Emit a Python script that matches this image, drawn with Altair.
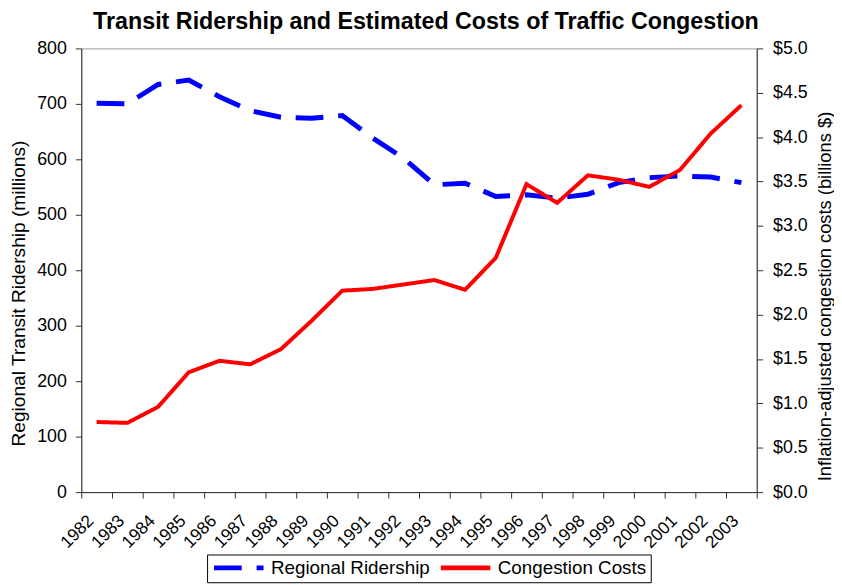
import altair as alt
import pandas as pd

years = ["1982", "1983", "1984", "1985", "1986", "1987", "1988", "1989", "1990", "1991", "1992",
         "1993", "1994", "1995", "1996", "1997", "1998", "1999", "2000", "2001", "2002", "2003"]
ridership = [701, 700, 735, 743, 713, 688, 676, 674, 679, 638, 602,
             554, 557, 533, 536, 530, 537, 558, 567, 570, 568, 558]
costs = [0.79, 0.78, 0.96, 1.35, 1.48, 1.44, 1.61, 1.93, 2.27, 2.29, 2.34,
         2.39, 2.28, 2.64, 3.47, 3.26, 3.57, 3.52, 3.44, 3.63, 4.04, 4.36]
series_names = ["Regional Ridership", "Congestion Costs"]
series_colors = ["#0000ff", "#ff0000"]
left_ticks = [0, 100, 200, 300, 400, 500, 600, 700, 800]
right_ticks = [0, 0.5, 1, 1.5, 2, 2.5, 3, 3.5, 4, 4.5, 5]

df_r = pd.DataFrame({"year": years, "value": ridership, "series": series_names[0]})
df_c = pd.DataFrame({"year": years, "value": costs, "series": series_names[1]})

legend = alt.Legend(
    title=None, orient="none", legendX=127, legendY=511, direction="horizontal",
    symbolType="stroke", symbolSize=2500, symbolStrokeWidth=5, clipHeight=18,
    labelFontSize=19, labelColor="black", labelOffset=5, labelLimit=400, columnPadding=8,
    padding=4.5, strokeColor="black", fillColor="white",
)
color = alt.Color("series:N", scale=alt.Scale(domain=series_names, range=series_colors), legend=legend)
dash = alt.StrokeDash("series:N", scale=alt.Scale(domain=series_names, range=[[28, 15], [1, 0]]), legend=legend)

xenc = alt.X(
    "year:O", sort=years,
    scale=alt.Scale(type="band", paddingInner=0, paddingOuter=0),
    axis=alt.Axis(title=None, labelAngle=315, labelAlign="right", labelBaseline="middle",
                  labelOffset=-6, labelPadding=20, labelFontSize=17.5, tickBand="extent", tickSize=6),
)

blue = alt.Chart(df_r).mark_line(strokeWidth=5).encode(
    x=xenc,
    y=alt.Y("value:Q", scale=alt.Scale(domain=[0, 800], nice=False),
            axis=alt.Axis(title="Regional Transit Ridership (millions)", orient="left",
                          values=left_ticks, labelPadding=9, titleX=-63, titleY=247,
                          titleAngle=270, titleBaseline="middle", titleAlign="center",
                          titleFontSize=19.3)),
    color=color,
    strokeDash=dash,
)
red = alt.Chart(df_c).mark_line(strokeWidth=4).encode(
    x=xenc,
    y=alt.Y("value:Q", scale=alt.Scale(domain=[0, 5], nice=False),
            axis=alt.Axis(title="Inflation-adjusted congestion costs (billions $)", orient="right",
                          values=right_ticks, format="$.1f", labelPadding=10, titleX=68, titleY=250,
                          titleAngle=270, titleBaseline="middle", titleAlign="center",
                          titleFontSize=18.5)),
    color=color,
    strokeDash=dash,
)

chart = alt.layer(blue, red).resolve_scale(y="independent").properties(
    width=682, height=448,
    autosize=alt.AutoSizeParams(type="none"),
    padding={"left": 74, "top": 38, "right": 78, "bottom": 91},
    title=alt.TitleParams(text="Transit Ridership and Estimated Costs of Traffic Congestion",
                          fontSize=23.5, fontWeight="bold", anchor="middle", dx=7, offset=6,
                          color="black"),
).configure(font="Liberation Sans").configure_axis(
    domainColor="#333333", tickColor="#333333", labelColor="black", labelFontSize=18,
    titleFontSize=18, titleFontWeight="normal", titleColor="black", grid=False, tickSize=6,
).configure_view(stroke="#999999", strokeWidth=1)

chart.save("out.html", embed_options={"renderer": "svg", "actions": False})
